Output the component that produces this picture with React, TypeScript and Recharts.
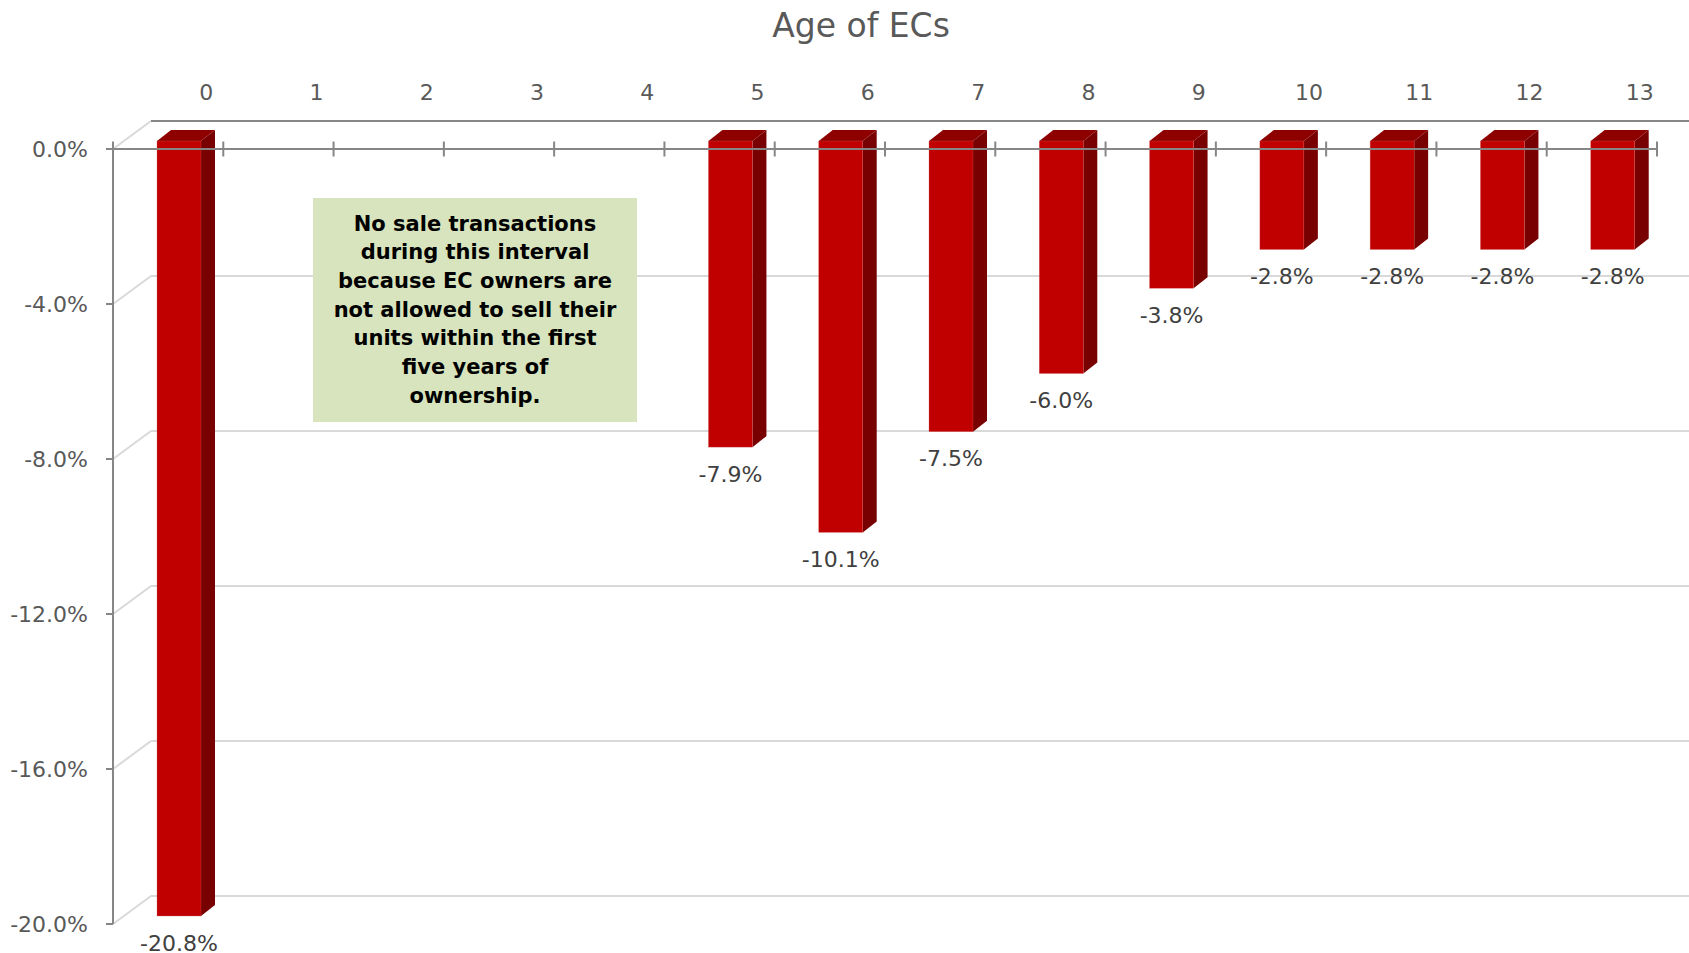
import React from 'react';
import { BarChart, Bar, XAxis, YAxis, CartesianGrid, LabelList } from 'recharts';

// ---------- data ----------
const AGES = ['0', '1', '2', '3', '4', '5', '6', '7', '8', '9', '10', '11', '12', '13'];
const PRICE_CHANGE: (number | null)[] = [-20.8, null, null, null, null, -7.9, -10.1, -7.5, -6.0, -3.8, -2.8, -2.8, -2.8, -2.8];
const Y_TICKS = [0, -4, -8, -12, -16, -20];
const Y_MIN = -20;
const Y_MAX = 0;
const TITLE = 'Age of ECs';
const NOTE_LINES = [
  'No sale transactions',
  'during this interval',
  'because EC owners are',
  'not allowed to sell their',
  'units within the first',
  'five years of',
  'ownership.',
];

// ---------- layout / style ----------
const W = 1689;
const H = 953;
const YAXIS_W = 100;
const TOPAXIS_H = 60;
const MARGIN = { top: 149 - TOPAXIS_H, right: 32, bottom: 29, left: 113 - YAXIS_W };
const PLOT_TOP = MARGIN.top + TOPAXIS_H;
const PLOT_W = W - MARGIN.left - YAXIS_W - MARGIN.right;
const BACK = { dx: 38, dy: 28 };
const BAR_POS = { dx: 11, dy: 8 };
const BAR_SIDE = { dx: 14, dy: 11 };
const FONT = '"DejaVu Sans", Verdana, sans-serif';
const AXIS = '#868686';
const GRID = '#D9D9D9';
const TEXT = '#595959';
const FRONT = '#C00000';
const TOPC = '#8E0000';
const SIDE = '#780000';

const data = AGES.map((age, i) => ({
  age,
  value: PRICE_CHANGE[i],
  plotted: PRICE_CHANGE[i] == null ? null : Math.max(PRICE_CHANGE[i] as number, Y_MIN),
}));

const fmt = (v: number) => `${v.toFixed(1)}%`;

const GridLine = (props: any) => {
  const { x1, y1, x2 } = props;
  const isTop = Math.abs(y1 - PLOT_TOP) < 1;
  return (
    <g>
      <line x1={x1} y1={y1} x2={x1 + BACK.dx} y2={y1 - BACK.dy} stroke={GRID} strokeWidth={2} />
      <line
        x1={x1 + BACK.dx}
        y1={y1 - BACK.dy}
        x2={x2 + BACK.dx}
        y2={y1 - BACK.dy}
        stroke={isTop ? AXIS : GRID}
        strokeWidth={2}
      />
    </g>
  );
};

const TopTick = (props: any) => {
  const { x, y, payload, index } = props;
  const half = payload && typeof payload.offset === 'number' && payload.offset > 0 ? payload.offset : PLOT_W / AGES.length / 2;
  const left = x - half;
  return (
    <g>
      <line x1={left} y1={y - 7.5} x2={left} y2={y + 7.5} stroke={AXIS} strokeWidth={2} />
      {index === AGES.length - 1 ? (
        <line x1={x + half} y1={y - 7.5} x2={x + half} y2={y + 7.5} stroke={AXIS} strokeWidth={2} />
      ) : null}
      <text
        x={x + BACK.dx}
        y={y - 57}
        dy="0.35em"
        textAnchor="middle"
        fill={TEXT}
        fontSize={22}
        fontFamily={FONT}
      >
        {payload.value}
      </text>
    </g>
  );
};

const Bar3D = (props: any) => {
  const { x, y, width, height } = props;
  if (x == null || y == null || !width || !height) return null;
  const top = Math.min(y, y + height) - BAR_POS.dy;
  const bottom = Math.max(y, y + height) - BAR_POS.dy;
  const left = x + BAR_POS.dx;
  const right = left + width;
  const { dx, dy } = BAR_SIDE;
  return (
    <g>
      <polygon
        points={`${right},${top} ${right + dx},${top - dy} ${right + dx},${bottom - dy} ${right},${bottom}`}
        fill={SIDE}
      />
      <polygon
        points={`${left},${top} ${left + dx},${top - dy} ${right + dx},${top - dy} ${right},${top}`}
        fill={TOPC}
      />
      <rect x={left} y={top} width={width} height={bottom - top} fill={FRONT} stroke="#D86060" strokeWidth={0.6} strokeOpacity={0.5} />
    </g>
  );
};

const ValueLabel = (props: any) => {
  const { x, y, width, height, value } = props;
  if (value == null || x == null || y == null) return null;
  const bottom = Math.max(y, y + height) - BAR_POS.dy;
  return (
    <text
      x={x + width / 2 + BAR_POS.dx}
      y={bottom + 27}
      dy="0.35em"
      textAnchor="middle"
      fill="#404040"
      fontSize={22}
      fontFamily={FONT}
    >
      {fmt(value)}
    </text>
  );
};

export default function App() {
  return (
    <div style={{ position: 'absolute', left: 0, top: 0, width: W, height: H, background: '#fff', overflow: 'hidden' }}>
      <BarChart width={W} height={H} data={data} margin={MARGIN} barSize={44}>
        <CartesianGrid vertical={false} horizontal={GridLine as any} />
        <YAxis
          domain={[Y_MIN, Y_MAX]}
          ticks={Y_TICKS}
          interval={0}
          width={YAXIS_W}
          tickSize={7}
          tickMargin={18}
          tickFormatter={(v: number) => fmt(v)}
          tick={{ fill: TEXT, fontSize: 22, fontFamily: FONT }}
          tickLine={{ stroke: AXIS, strokeWidth: 2 }}
          axisLine={{ stroke: AXIS, strokeWidth: 2 }}
        />
        <Bar dataKey="plotted" shape={Bar3D as any} isAnimationActive={false}>
          <LabelList dataKey="value" content={ValueLabel as any} />
        </Bar>
        <XAxis
          dataKey="age"
          orientation="top"
          height={TOPAXIS_H}
          interval={0}
          tickSize={0}
          tickMargin={0}
          tickLine={false}
          tick={TopTick as any}
          axisLine={{ stroke: AXIS, strokeWidth: 2 }}
        />
        <XAxis
          xAxisId="front-bottom"
          dataKey="age"
          orientation="bottom"
          height={0}
          tick={false}
          tickLine={false}
          axisLine={{ stroke: AXIS, strokeWidth: 2 }}
        />
      </BarChart>
      <div
        style={{
          position: 'absolute',
          left: 0,
          top: 8,
          width: 1722,
          textAlign: 'center',
          fontFamily: FONT,
          fontSize: 33,
          lineHeight: '36px',
          color: TEXT,
        }}
      >
        {TITLE}
      </div>
      <div
        style={{
          position: 'absolute',
          left: 313,
          top: 198,
          width: 324,
          height: 224,
          background: '#D7E4BD',
          display: 'flex',
          flexDirection: 'column',
          justifyContent: 'center',
          alignItems: 'center',
          fontFamily: FONT,
          fontWeight: 'bold',
          fontSize: 21,
          lineHeight: '28.7px',
          color: '#000',
          textAlign: 'center',
        }}
      >
        {NOTE_LINES.map((l) => (
          <div key={l} style={{ whiteSpace: 'nowrap' }}>{l}</div>
        ))}
      </div>
    </div>
  );
}
